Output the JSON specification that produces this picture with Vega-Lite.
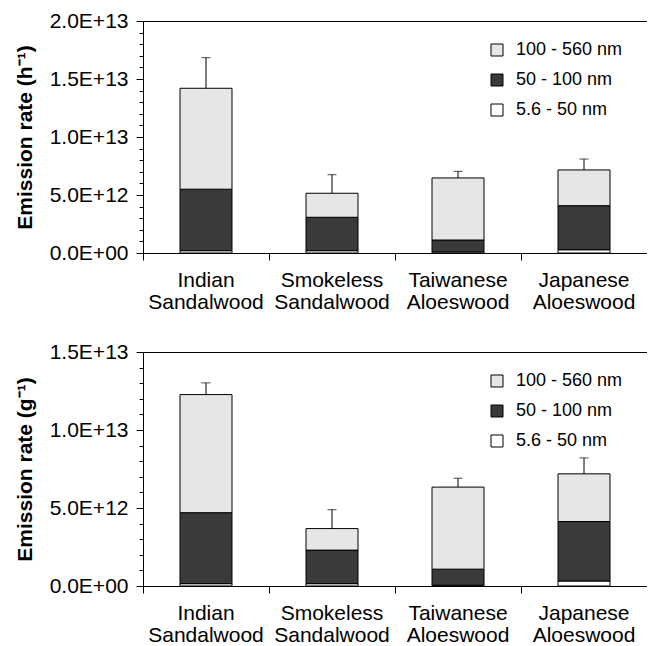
{
  "$schema": "https://vega.github.io/schema/vega-lite/v6.json",
  "background": "white",
  "padding": {"left": 14, "top": 10, "right": 0, "bottom": 0},
  "config": {
    "font": "Liberation Sans",
    "view": {"stroke": null},
    "axis": {"labelColor": "black", "titleColor": "black", "domainColor": "black", "tickColor": "black", "grid": false, "labelFont": "Liberation Sans", "titleFont": "Liberation Sans"},
    "legend": {"labelFont": "Liberation Sans", "labelFontSize": 18, "labelColor": "black", "symbolType": "square", "symbolSize": 144, "symbolStrokeColor": "black", "symbolStrokeWidth": 1, "rowPadding": 12, "labelOffset": 10, "title": null, "padding": 0}
  },
  "datasets": {
    "hBars": [
      {"incense": "Indian Sandalwood", "size": "5.6 - 50 nm", "lo": 5.6, "rate": 2.0e11},
      {"incense": "Indian Sandalwood", "size": "50 - 100 nm", "lo": 50, "rate": 5.3e12},
      {"incense": "Indian Sandalwood", "size": "100 - 560 nm", "lo": 100, "rate": 8.7e12},
      {"incense": "Smokeless Sandalwood", "size": "5.6 - 50 nm", "lo": 5.6, "rate": 2.0e11},
      {"incense": "Smokeless Sandalwood", "size": "50 - 100 nm", "lo": 50, "rate": 2.88e12},
      {"incense": "Smokeless Sandalwood", "size": "100 - 560 nm", "lo": 100, "rate": 2.07e12},
      {"incense": "Taiwanese Aloeswood", "size": "5.6 - 50 nm", "lo": 5.6, "rate": 1.0e11},
      {"incense": "Taiwanese Aloeswood", "size": "50 - 100 nm", "lo": 50, "rate": 1.02e12},
      {"incense": "Taiwanese Aloeswood", "size": "100 - 560 nm", "lo": 100, "rate": 5.35e12},
      {"incense": "Japanese Aloeswood", "size": "5.6 - 50 nm", "lo": 5.6, "rate": 2.8e11},
      {"incense": "Japanese Aloeswood", "size": "50 - 100 nm", "lo": 50, "rate": 3.8e12},
      {"incense": "Japanese Aloeswood", "size": "100 - 560 nm", "lo": 100, "rate": 3.08e12}
    ],
    "hTotals": [
      {"incense": "Indian Sandalwood", "total": 1.42e13, "upper": 1.684e13},
      {"incense": "Smokeless Sandalwood", "total": 5.15e12, "upper": 6.75e12},
      {"incense": "Taiwanese Aloeswood", "total": 6.47e12, "upper": 7.04e12},
      {"incense": "Japanese Aloeswood", "total": 7.16e12, "upper": 8.1e12}
    ],
    "gBars": [
      {"incense": "Indian Sandalwood", "size": "5.6 - 50 nm", "lo": 5.6, "rate": 1.5e11},
      {"incense": "Indian Sandalwood", "size": "50 - 100 nm", "lo": 50, "rate": 4.55e12},
      {"incense": "Indian Sandalwood", "size": "100 - 560 nm", "lo": 100, "rate": 7.57e12},
      {"incense": "Smokeless Sandalwood", "size": "5.6 - 50 nm", "lo": 5.6, "rate": 1.5e11},
      {"incense": "Smokeless Sandalwood", "size": "50 - 100 nm", "lo": 50, "rate": 2.15e12},
      {"incense": "Smokeless Sandalwood", "size": "100 - 560 nm", "lo": 100, "rate": 1.38e12},
      {"incense": "Taiwanese Aloeswood", "size": "5.6 - 50 nm", "lo": 5.6, "rate": 5.0e10},
      {"incense": "Taiwanese Aloeswood", "size": "50 - 100 nm", "lo": 50, "rate": 1.03e12},
      {"incense": "Taiwanese Aloeswood", "size": "100 - 560 nm", "lo": 100, "rate": 5.26e12},
      {"incense": "Japanese Aloeswood", "size": "5.6 - 50 nm", "lo": 5.6, "rate": 3.2e11},
      {"incense": "Japanese Aloeswood", "size": "50 - 100 nm", "lo": 50, "rate": 3.81e12},
      {"incense": "Japanese Aloeswood", "size": "100 - 560 nm", "lo": 100, "rate": 3.06e12}
    ],
    "gTotals": [
      {"incense": "Indian Sandalwood", "total": 1.227e13, "upper": 1.302e13},
      {"incense": "Smokeless Sandalwood", "total": 3.68e12, "upper": 4.89e12},
      {"incense": "Taiwanese Aloeswood", "total": 6.34e12, "upper": 6.91e12},
      {"incense": "Japanese Aloeswood", "total": 7.19e12, "upper": 8.21e12}
    ]
  },
  "resolve": {"legend": {"color": "independent"}},
  "spacing": 29,
  "vconcat": [
    {
      "width": 504,
      "height": 232,
      "resolve": {"axis": {"x": "independent", "y": "independent"}},
      "layer": [
        {
          "data": {"name": "hBars"},
          "mark": {"type": "bar", "width": 52, "stroke": "black", "strokeWidth": 1},
          "encoding": {
            "x": {"field": "incense", "type": "nominal", "sort": ["Indian Sandalwood", "Smokeless Sandalwood", "Taiwanese Aloeswood", "Japanese Aloeswood"], "scale": {"paddingInner": 0, "paddingOuter": 0},
              "axis": {"bandPosition": 0, "tickSize": 7, "labelAngle": 0, "labelExpr": "split(datum.label, ' ')", "labelFontSize": 21, "labelLineHeight": 22, "labelPadding": 9, "title": null}},
            "y": {"field": "rate", "type": "quantitative", "stack": "zero", "scale": {"domain": [0, 2e13], "nice": false},
              "axis": {"values": [0, 1e12, 2e12, 3e12, 4e12, 5e12, 6e12, 7e12, 8e12, 9e12, 1e13, 1.1e13, 1.2e13, 1.3e13, 1.4e13, 1.5e13, 1.6e13, 1.7e13, 1.8e13, 1.9e13, 2e13],
                "labelExpr": "datum.value == 0 ? '0.0E+00' : (datum.value % 5e12 == 0 ? upper(format(datum.value, '.1e')) : '')",
                "tickSize": {"expr": "datum.value % 5e12 == 0 ? 7 : 4"}, "labelPadding": 8, "labelFontSize": 21, "title": "Emission rate (h⁻¹)", "titleFontSize": 21, "titleFontWeight": "bold", "titlePadding": 14}},
            "color": {"field": "size", "type": "nominal", "scale": {"domain": ["100 - 560 nm", "50 - 100 nm", "5.6 - 50 nm"], "range": ["#e6e6e6", "#3a3a3a", "#ffffff"]},
              "legend": {"orient": "none", "legendX": 345, "legendY": 20}},
            "order": {"field": "lo", "type": "quantitative", "sort": "ascending"}
          }
        },
        {
          "data": {"name": "hTotals"},
          "mark": {"type": "rule", "color": "black", "strokeWidth": 1},
          "encoding": {
            "x": {"field": "incense", "type": "nominal", "sort": ["Indian Sandalwood", "Smokeless Sandalwood", "Taiwanese Aloeswood", "Japanese Aloeswood"],
              "axis": {"orient": "top", "labels": false, "ticks": false, "title": null}},
            "y": {"field": "total", "type": "quantitative", "axis": null},
            "y2": {"field": "upper"}
          }
        },
        {
          "data": {"name": "hTotals"},
          "mark": {"type": "tick", "orient": "horizontal", "size": 9, "thickness": 1, "color": "black"},
          "encoding": {
            "x": {"field": "incense", "type": "nominal", "sort": ["Indian Sandalwood", "Smokeless Sandalwood", "Taiwanese Aloeswood", "Japanese Aloeswood"], "axis": null},
            "y": {"field": "upper", "type": "quantitative", "axis": null}
          }
        }
      ]
    },
    {
      "width": 504,
      "height": 234,
      "resolve": {"axis": {"x": "independent", "y": "independent"}},
      "layer": [
        {
          "data": {"name": "gBars"},
          "mark": {"type": "bar", "width": 52, "stroke": "black", "strokeWidth": 1},
          "encoding": {
            "x": {"field": "incense", "type": "nominal", "sort": ["Indian Sandalwood", "Smokeless Sandalwood", "Taiwanese Aloeswood", "Japanese Aloeswood"], "scale": {"paddingInner": 0, "paddingOuter": 0},
              "axis": {"bandPosition": 0, "tickSize": 7, "labelAngle": 0, "labelExpr": "split(datum.label, ' ')", "labelFontSize": 21, "labelLineHeight": 22, "labelPadding": 9, "title": null}},
            "y": {"field": "rate", "type": "quantitative", "stack": "zero", "scale": {"domain": [0, 1.5e13], "nice": false},
              "axis": {"values": [0, 1e12, 2e12, 3e12, 4e12, 5e12, 6e12, 7e12, 8e12, 9e12, 1e13, 1.1e13, 1.2e13, 1.3e13, 1.4e13, 1.5e13],
                "labelExpr": "datum.value == 0 ? '0.0E+00' : (datum.value % 5e12 == 0 ? upper(format(datum.value, '.1e')) : '')",
                "tickSize": {"expr": "datum.value % 5e12 == 0 ? 7 : 4"}, "labelPadding": 8, "labelFontSize": 21, "title": "Emission rate (g⁻¹)", "titleFontSize": 21, "titleFontWeight": "bold", "titlePadding": 14}},
            "color": {"field": "size", "type": "nominal", "scale": {"domain": ["100 - 560 nm", "50 - 100 nm", "5.6 - 50 nm"], "range": ["#e6e6e6", "#3a3a3a", "#ffffff"]},
              "legend": {"orient": "none", "legendX": 345, "legendY": 20}},
            "order": {"field": "lo", "type": "quantitative", "sort": "ascending"}
          }
        },
        {
          "data": {"name": "gTotals"},
          "mark": {"type": "rule", "color": "black", "strokeWidth": 1},
          "encoding": {
            "x": {"field": "incense", "type": "nominal", "sort": ["Indian Sandalwood", "Smokeless Sandalwood", "Taiwanese Aloeswood", "Japanese Aloeswood"],
              "axis": {"orient": "top", "labels": false, "ticks": false, "title": null}},
            "y": {"field": "total", "type": "quantitative", "axis": null},
            "y2": {"field": "upper"}
          }
        },
        {
          "data": {"name": "gTotals"},
          "mark": {"type": "tick", "orient": "horizontal", "size": 9, "thickness": 1, "color": "black"},
          "encoding": {
            "x": {"field": "incense", "type": "nominal", "sort": ["Indian Sandalwood", "Smokeless Sandalwood", "Taiwanese Aloeswood", "Japanese Aloeswood"], "axis": null},
            "y": {"field": "upper", "type": "quantitative", "axis": null}
          }
        }
      ]
    }
  ]
}
